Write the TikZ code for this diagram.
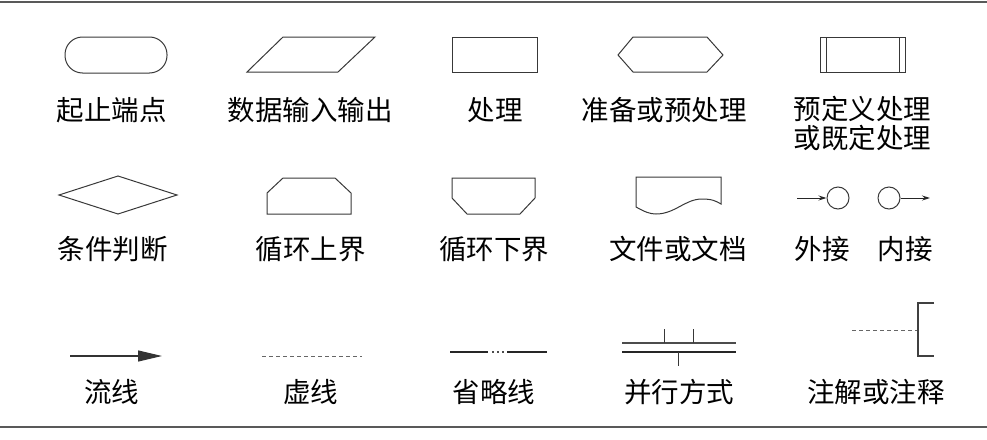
\documentclass[tikz,border=0pt]{standalone}
\usepackage{fontspec}
\newfontfamily\cjk{Noto Sans CJK SC}
\usetikzlibrary{arrows.meta}
\begin{document}
\begin{tikzpicture}[x=1pt,y=-1pt,
  shp/.style={draw=black!78,line width=1pt,line join=miter},
  lbl/.style={font=\cjk\fontsize{27.5}{28.5}\selectfont,inner sep=0pt,align=center,text=black},
  rule/.style={draw=black!65,line width=2pt},
  flow/.style={draw=black!80,line width=1.2pt,-{Triangle[length=24pt,width=11pt]}},
  dsh/.style={draw=black!60,line width=1pt,dash pattern=on 4pt off 3pt},
  thk/.style={draw=black!85,line width=1.8pt},
  conn/.style={draw=black!85,line width=1pt,-{Stealth[length=8pt,width=5pt]}}
]
\useasboundingbox (0,0) rectangle (987,439);
% rules
\coordinate (t1) at (0,2); \coordinate (t2) at (987,2);
\coordinate (b1) at (0,427); \coordinate (b2) at (987,427);
\draw[rule] (t1) -- (t2);
\draw[rule] (b1) -- (b2);

% ---------- row 1 ----------
\draw[shp,rounded corners=17.5pt] (65,37) rectangle (167,73);
\draw[shp] (283,37) -- (375,37) -- (338,72) -- (247,72) -- cycle;
\draw[shp] (452,37) rectangle (537,72);
\draw[shp] (633,37) -- (707,37) -- (723,55) -- (707,72) -- (633,72) -- (618,55) -- cycle;
\draw[shp] (820,37) rectangle (905,72);
\draw[shp] (826,37) -- (826,72);
\draw[shp] (899,37) -- (899,72);

\node[lbl] (l1) at (111.5,110) {起止端点};
\node[lbl] (l2) at (310,110) {数据输入输出};
\node[lbl] (l3) at (495,110) {处理};
\node[lbl] (l4) at (664,110) {准备或预处理};
\node[lbl] (l5) at (862.5,123.5) {预定义处理\\或既定处理};

% ---------- row 2 ----------
\draw[shp] (59,195) -- (118,176) -- (177,195) -- (118,214) -- cycle;
\draw[shp] (267,214) -- (267,193) -- (283,178) -- (335,178) -- (351,193) -- (351,214) -- cycle;
\draw[shp] (452,178) -- (535,178) -- (535,198) -- (520,214) -- (467,214) -- (452,198) -- cycle;
\draw[shp] (636,207) -- (636,177) -- (721,177) -- (721,204)
  .. controls (716,201) and (712,199) .. (702,199)
  .. controls (685,199) and (675,214) .. (656,214)
  .. controls (650,214) and (645,212) .. (636,207) -- cycle;
\node[shp,circle,minimum size=22pt,inner sep=0pt] (oc) at (838,198) {};
\coordinate (oa) at (797,198);
\draw[conn] (oa) -- (oc.west);
\node[shp,circle,minimum size=22pt,inner sep=0pt] (ic) at (889,198) {};
\coordinate (ia) at (930,198);
\draw[conn] (ic.east) -- (ia);

\node[lbl] (m1) at (112.5,249) {条件判断};
\node[lbl] (m2) at (310.5,249) {循环上界};
\node[lbl] (m3) at (494,249) {循环下界};
\node[lbl] (m4) at (678,249) {文件或文档};
\node[lbl] (m5) at (822,249) {外接};
\node[lbl] (m6) at (905,249) {内接};

% ---------- row 3 ----------
\coordinate (f1) at (70,356); \coordinate (f2) at (162,356);
\draw[flow] (f1) -- (f2);
\coordinate (d1) at (262,356); \coordinate (d2) at (362,356);
\draw[dsh] (d1) -- (d2);
\coordinate (e1) at (450,352); \coordinate (e2) at (488,352);
\coordinate (e3) at (492,352); \coordinate (e4) at (506,352);
\coordinate (e5) at (507,352); \coordinate (e6) at (547,352);
\draw[thk] (e1) -- (e2);
\draw[draw=black!70,line width=1.8pt,dash pattern=on 2pt off 3pt] (e3) -- (e4);
\draw[thk] (e5) -- (e6);
% parallel
\coordinate (p1) at (622,343); \coordinate (p2) at (736,343);
\coordinate (p3) at (622,352); \coordinate (p4) at (736,352);
\draw[draw=black!70,line width=1.6pt] (p1) -- (p2);
\draw[draw=black!85,line width=1.2pt] (p3) -- (p4);
\coordinate (q1) at (664,329); \coordinate (q1b) at (664,343);
\coordinate (q2) at (693,329); \coordinate (q2b) at (693,343);
\coordinate (q3) at (678,352); \coordinate (q3b) at (678,366);
\draw[shp] (q1) -- (q1b);
\draw[shp] (q2) -- (q2b);
\draw[shp] (q3) -- (q3b);
% annotation
\coordinate (n1) at (852,330); \coordinate (n2) at (918,330);
\draw[dsh] (n1) -- (n2);
\draw[draw=black!75,line width=1.3pt] (934,303) -- (918,303) -- (918,356) -- (934,356);

\node[lbl] (r1) at (111.5,392) {流线};
\node[lbl] (r2) at (310.5,392) {虚线};
\node[lbl] (r3) at (494,392) {省略线};
\node[lbl] (r4) at (679,392) {并行方式};
\node[lbl] (r5) at (876,392) {注解或注释};
\end{tikzpicture}
\end{document}
